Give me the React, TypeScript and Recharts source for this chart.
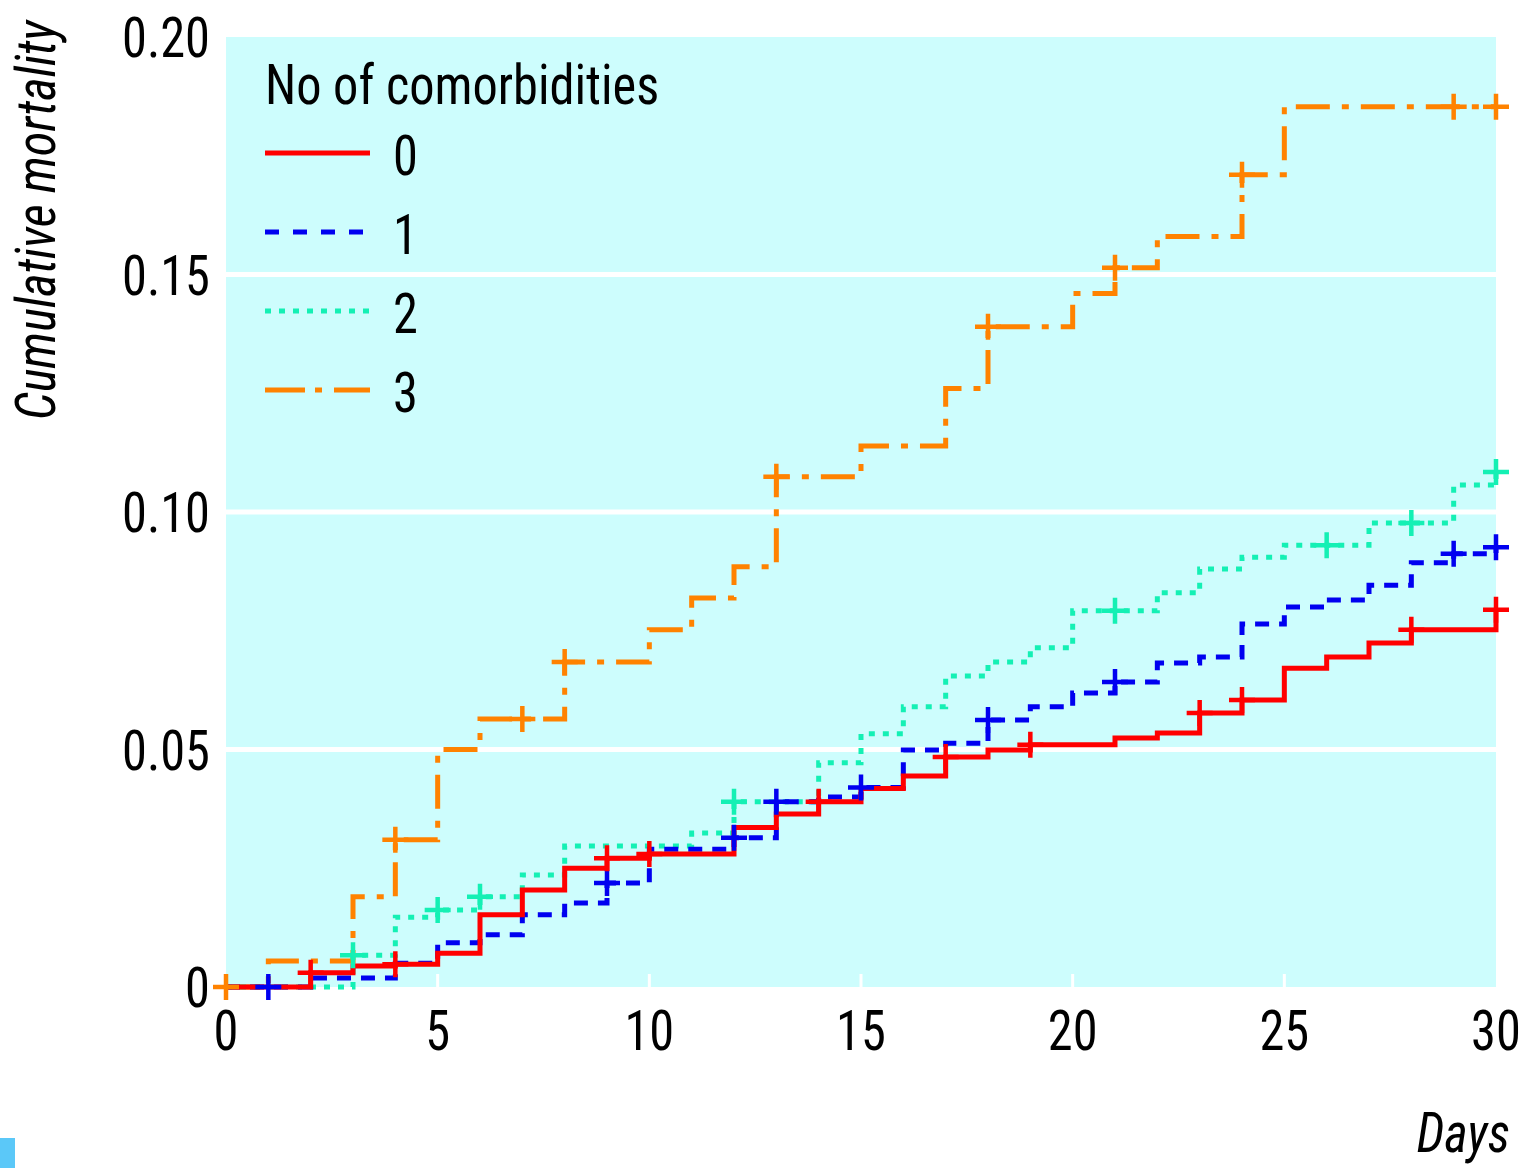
import React from 'react';
import {
  ComposedChart,
  Line,
  XAxis,
  YAxis,
  CartesianGrid,
  Legend,
} from 'recharts';

// days since admission
const days = [0, 1, 2, 3, 4, 5, 6, 7, 8, 9, 10, 11, 12, 13, 14, 15, 16, 17, 18, 19, 20, 21, 22, 23, 24, 25, 26, 27, 28, 29, 30];

// cumulative mortality by number of comorbidities (value from that day on)
const none0 = [0, 0, 0.003, 0.0044, 0.0048, 0.0071, 0.0152, 0.0204, 0.025, 0.0271, 0.028, 0.028, 0.0336, 0.0364, 0.039, 0.0418, 0.0444, 0.0484, 0.0499, 0.051, 0.051, 0.0524, 0.0535, 0.0577, 0.0604, 0.0671, 0.0695, 0.0724, 0.0752, 0.0752, 0.0794];
const one1 = [0, 0, 0.0019, 0.0019, 0.005, 0.0093, 0.011, 0.0152, 0.0177, 0.0219, 0.029, 0.029, 0.0314, 0.039, 0.04, 0.042, 0.0499, 0.0513, 0.0562, 0.059, 0.0619, 0.0642, 0.0682, 0.0695, 0.0764, 0.08, 0.0815, 0.0846, 0.0893, 0.0912, 0.0926];
const two2 = [0, 0, 0, 0.0067, 0.0147, 0.0162, 0.019, 0.0236, 0.0297, 0.0297, 0.0297, 0.0324, 0.039, 0.039, 0.0472, 0.0533, 0.059, 0.0655, 0.0684, 0.0714, 0.0792, 0.0792, 0.083, 0.088, 0.0905, 0.093, 0.093, 0.0977, 0.0977, 0.1057, 0.1084];
const three3 = [0, 0.0055, 0.0055, 0.019, 0.031, 0.05, 0.0564, 0.0564, 0.0684, 0.0684, 0.0752, 0.0819, 0.0885, 0.1074, 0.1074, 0.1139, 0.1139, 0.126, 0.139, 0.139, 0.146, 0.1514, 0.158, 0.158, 0.171, 0.1853, 0.1853, 0.1853, 0.1853, 0.1853, 0.1853];

// censored observations (days)
const censor0 = [2, 4, 9, 10, 14, 17, 19, 23, 24, 28, 30];
const censor1 = [1, 9, 12, 13, 15, 18, 21, 29, 30];
const censor2 = [3, 5, 6, 12, 21, 26, 28, 30];
const censor3 = [0, 4, 7, 8, 13, 18, 21, 24, 29, 30];

const xTicks = [0, 5, 10, 15, 20, 25, 30];
const yTicks = [0, 0.05, 0.1, 0.15, 0.2];
const yTickLabels = ['0', '0.05', '0.10', '0.15', '0.20'];

const FONT = "'Roboto Condensed', 'Liberation Sans Narrow', 'Arial Narrow', sans-serif";
const BG = '#cdfdfd';
const SQUEEZE = 0.9;

const series = [
  { key: 'g3', name: '3', values: three3, censor: censor3, color: '#ff8200', dash: '34 12 7 12', legendDash: '40 10 7 12' },
  { key: 'g2', name: '2', values: two2, censor: censor2, color: '#14f0b4', dash: '6 8', legendDash: '6 8' },
  { key: 'g1', name: '1', values: one1, censor: censor1, color: '#0000f0', dash: '14 10', legendDash: '14 14' },
  { key: 'g0', name: '0', values: none0, censor: censor0, color: '#ff0000', dash: undefined, legendDash: undefined },
];

const data = days.map((d, i) => ({
  day: d,
  g0: none0[i],
  g1: one1[i],
  g2: two2[i],
  g3: three3[i],
}));

// condensed text (the original uses a narrow grotesque)
const NText = ({ x, y, anchor = 'start', rotate = 0, italic = false, children }: any) => (
  <g transform={`translate(${x},${y}) rotate(${rotate}) scale(${SQUEEZE},1)`}>
    <text x={0} y={0} textAnchor={anchor} fontFamily={FONT} fontSize={56} fontStyle={italic ? 'italic' : 'normal'} fill="#000">
      {children}
    </text>
  </g>
);

const makeCensorDot = (color: string, censor: number[]) => (props: any) => {
  const { cx, cy, payload, index } = props;
  if (!censor.includes(payload.day)) return <g key={`n-${index}`} />;
  return (
    <path
      key={`c-${index}`}
      d={`M${cx - 13},${cy} H${cx + 13} M${cx},${cy - 13} V${cy + 13}`}
      stroke={color}
      strokeWidth={4.5}
      strokeDasharray="none"
      fill="none"
    />
  );
};

const XTick = (props: any) => {
  const { x, y, payload } = props;
  const v = payload.value;
  return (
    <g>
      {v > 0 && v < 30 && <line x1={x} x2={x} y1={y - 13} y2={y} stroke="#fff" strokeWidth={3} />}
      <NText x={x} y={y + 63} anchor="middle">{v}</NText>
    </g>
  );
};

const YTick = (props: any) => {
  const { x, y, payload } = props;
  const idx = yTicks.indexOf(payload.value);
  return (
    <NText x={x - 16} y={y + 20} anchor="end">{yTickLabels[idx]}</NText>
  );
};

const LegendBox = () => {
  const order = [...series].reverse();
  return (
    <svg width={420} height={380} style={{ display: 'block', overflow: 'visible' }}>
      <NText x={0} y={49}>No of comorbidities</NText>
      {order.map((s, i) => (
        <g key={s.key}>
          <line x1={0} x2={105} y1={98 + i * 79} y2={98 + i * 79} stroke={s.color} strokeWidth={5} strokeDasharray={s.legendDash} />
          <NText x={128} y={120 + i * 79}>{s.name}</NText>
        </g>
      ))}
    </svg>
  );
};

const App: React.FC = () => {
  return (
    <div style={{ position: 'absolute', left: 0, top: 0, width: 1530, height: 1168, background: '#fff' }}>
      <ComposedChart width={1530} height={1168} data={data} margin={{ top: 37, right: 34, bottom: 180, left: 225 }}>
        <CartesianGrid vertical={false} horizontalValues={[0.05, 0.1, 0.15]} stroke="#fff" strokeWidth={5} fill={BG} fillOpacity={1} />
        <XAxis
          dataKey="day"
          type="number"
          domain={[0, 30]}
          ticks={xTicks}
          height={1}
          axisLine={false}
          tickLine={false}
          tickSize={0}
          tickMargin={0}
          tick={<XTick />}
          interval={0}
        />
        <YAxis
          type="number"
          domain={[0, 0.2]}
          ticks={yTicks}
          width={1}
          axisLine={false}
          tickLine={false}
          tickSize={0}
          tickMargin={0}
          tick={<YTick />}
          interval={0}
        />
        <Legend
          layout="horizontal"
          verticalAlign="middle"
          align="center"
          content={() => <LegendBox />}
          wrapperStyle={{ position: 'absolute', left: 265, top: 55, width: 420, height: 380 }}
        />
        {series.map((s) => (
          <Line
            key={s.key}
            type="stepAfter"
            dataKey={s.key}
            name={s.name}
            stroke={s.color}
            strokeWidth={5}
            strokeDasharray={s.dash}
            strokeLinecap="butt"
            dot={makeCensorDot(s.color, s.censor)}
            activeDot={false}
            isAnimationActive={false}
          />
        ))}
        <NText x={55} y={420} rotate={-90} italic>Cumulative mortality</NText>
        <NText x={1510} y={1152} anchor="end" italic>Days</NText>
      </ComposedChart>
      <div style={{ position: 'absolute', left: 0, top: 1138, width: 15, height: 30, background: '#5bc8f8' }} />
    </div>
  );
};

export default App;
